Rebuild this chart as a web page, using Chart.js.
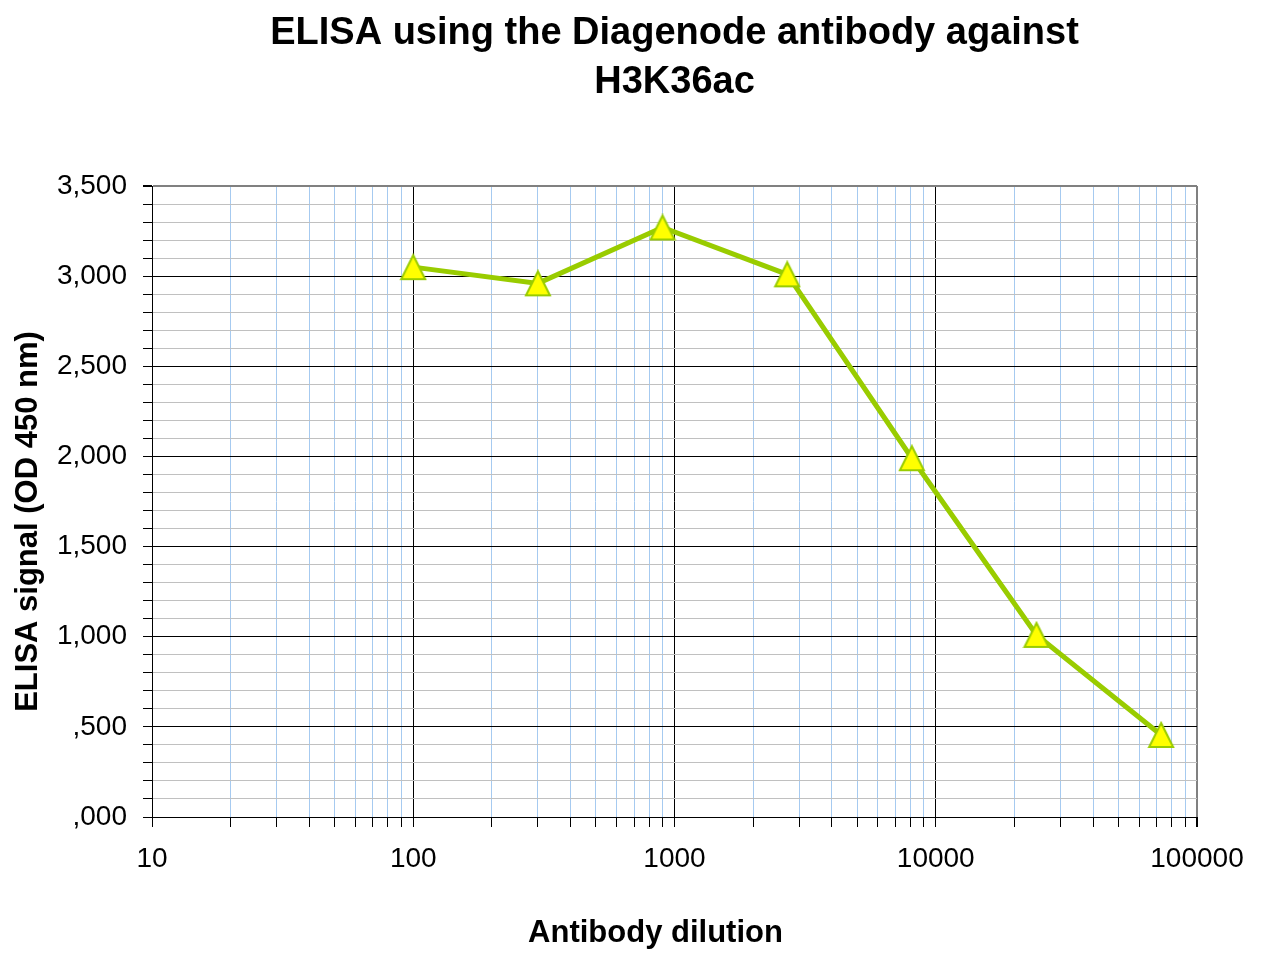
<!DOCTYPE html>
<html>
<head>
<meta charset="utf-8">
<script src="https://cdn.jsdelivr.net/npm/chart.js@4.4.0/dist/chart.umd.min.js"></script>
<style>
  html, body { margin: 0; background: #fff; }
  #wrap { width: 1286px; height: 972px; }
</style>
</head>
<body>
<div id="wrap"><canvas id="elisa" width="1286" height="972"></canvas></div>
<script>
// ---- DATA ----
const dilutions = [100, 300, 900, 2700, 8100, 24300, 72900];
const signal    = [3.05, 2.96, 3.27, 3.01, 1.99, 1.01, 0.455];
const xDecades  = [10, 100, 1000, 10000, 100000];
const yTenths   = 35;          // y axis 0 .. 3.5 in steps of 0.1
const titleLines = ['ELISA using the Diagenode antibody against', 'H3K36ac'];
const xTitle = 'Antibody dilution';
const yTitle = 'ELISA signal (OD 450 nm)';

const FONT = "'Liberation Sans', Arial, sans-serif";
const LINE_GREEN = '#99cc00';

// minor ticks 10,20..90,100,200.. up to 100000
const xTicks = [];
xDecades.slice(0, -1).forEach(d => { for (let m = 1; m <= 9; m++) xTicks.push(d * m); });
xTicks.push(xDecades[xDecades.length - 1]);

const yTicks = [];
for (let i = 0; i <= yTenths; i++) yTicks.push(i / 10);

const isYMajor = v => Math.round(v * 10) % 5 === 0;
const yLabel = v => v.toFixed(3).replace('.', ',').replace(/^0/, '');

// excel-like triangle marker, centred on its bounding box
function makeTriangle() {
  const c = document.createElement('canvas');
  c.width = 28; c.height = 28;
  const g = c.getContext('2d');
  g.beginPath();
  g.moveTo(14, 2);
  g.lineTo(26, 26);
  g.lineTo(2, 26);
  g.closePath();
  g.fillStyle = '#ffff00';
  g.fill();
  g.lineWidth = 2;
  g.strokeStyle = LINE_GREEN;
  g.stroke();
  return c;
}

// ---- axis titles (placed like the original sheet) ----
const axisTitles = {
  id: 'axisTitles',
  afterDraw(chart) {
    const { ctx, chartArea: a } = chart;
    ctx.save();
    ctx.fillStyle = '#000';
    ctx.font = `bold 31px ${FONT}`;
    ctx.textAlign = 'center';
    ctx.textBaseline = 'alphabetic';
    ctx.fillText(xTitle, (a.left + a.right) / 2 - 19, a.bottom + 125);
    ctx.translate(37, (a.top + a.bottom) / 2 + 20);
    ctx.rotate(-Math.PI / 2);
    ctx.fillText(yTitle, 0, 0);
    ctx.restore();
  }
};

new Chart(document.getElementById('elisa'), {
  type: 'line',
  data: {
    datasets: [{
      label: 'H3K36ac',
      data: dilutions.map((x, i) => ({ x, y: signal[i] })),
      borderColor: LINE_GREEN,
      borderWidth: 5,
      tension: 0,
      pointStyle: makeTriangle(),
      pointRadius: 14,
    }]
  },
  options: {
    responsive: false,
    animation: false,
    layout: { padding: { left: 0, right: 89, top: 0, bottom: 0 } },
    scales: {
      x: {
        type: 'logarithmic',
        min: 10,
        max: 100000,
        afterBuildTicks: s => { s.ticks = xTicks.map(v => ({ value: v })); },
        afterFit: s => { s.height = 155; },
        border: { color: '#000', width: 1 },
        grid: {
          color: ctx => {
            const v = ctx.tick && ctx.tick.value;
            if (v === 100000) return '#808080';
            return xDecades.includes(v) ? '#000' : '#a6caf0';
          },
          lineWidth: ctx => (ctx.tick && ctx.tick.value === 100000 ? 2 : 1),
          tickColor: '#000',
          tickLength: 10,
        },
        ticks: {
          autoSkip: false,
          maxRotation: 0,
          padding: 15,
          color: '#000',
          font: { family: FONT, size: 28 },
          callback: v => (xDecades.includes(v) ? String(v) : ''),
        }
      },
      y: {
        type: 'linear',
        min: 0,
        max: 3.5,
        afterBuildTicks: s => { s.ticks = yTicks.map(v => ({ value: v })); },
        afterFit: s => { s.width = 152; },
        border: { color: '#000', width: 1 },
        grid: {
          color: ctx => {
            const v = ctx.tick && ctx.tick.value;
            if (v === 3.5) return '#808080';
            return isYMajor(v) ? '#000' : '#c0c0c0';
          },
          lineWidth: ctx => (ctx.tick && ctx.tick.value === 3.5 ? 2 : 1),
          tickColor: '#000',
          tickLength: 9,
        },
        ticks: {
          autoSkip: false,
          padding: 16,
          color: '#000',
          font: { family: FONT, size: 28 },
          callback: v => (isYMajor(v) ? yLabel(v) : ''),
        }
      }
    },
    plugins: {
      legend: { display: false },
      tooltip: { enabled: false },
      title: {
        display: true,
        fullSize: false,
        text: titleLines,
        color: '#000',
        font: { family: FONT, size: 38, weight: 'bold', lineHeight: 49 / 38 },
        padding: { top: 9, bottom: 79 },
      }
    }
  },
  plugins: [axisTitles]
});
</script>
</body>
</html>
